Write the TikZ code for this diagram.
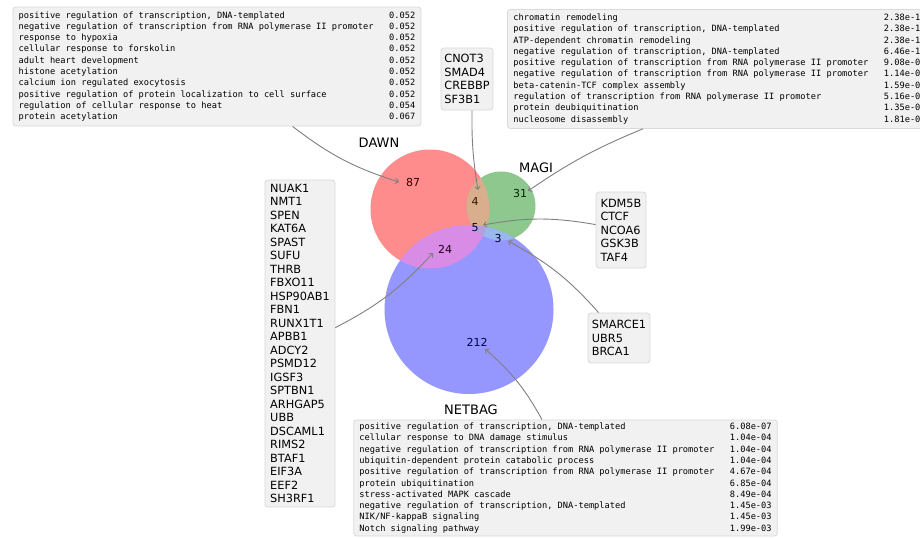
\documentclass[tikz,border=0pt]{standalone}
\usepackage{fontspec}
\setmainfont{DejaVu Sans}
\newfontfamily\monofont{DejaVu Sans Mono}
\usetikzlibrary{arrows.meta,calc}

% region colours of the three-set diagram
\definecolor{dawnc}{HTML}{FF8C8C}
\definecolor{magic}{HTML}{8FC88F}
\definecolor{netc}{HTML}{9696FF}
\definecolor{dmc}{HTML}{D9AE8C}
\definecolor{dnc}{HTML}{D98CE6}
\definecolor{mnc}{HTML}{99B8EE}
\definecolor{allc}{HTML}{B3A0DC}
\definecolor{boxfill}{HTML}{F1F1F1}
\definecolor{boxedge}{HTML}{DADADA}
\definecolor{conncol}{HTML}{808080}

% one term line of an enrichment table: term column, then p-value
\newcommand\goline[2]{\makebox[370.5pt][l]{#1}#2}

\tikzset{
  setlabel/.style={font=\fontsize{13}{15}\selectfont, inner sep=0pt},
  count/.style={font=\fontsize{11}{13}\selectfont, inner sep=0pt},
  genebox/.style={draw=boxedge, fill=boxfill, rounded corners=3pt,
    line width=0.8pt, align=left, inner sep=0pt,
    font=\fontsize{11.3}{13.5}\selectfont},
  gobox/.style={draw=boxedge, fill=boxfill, rounded corners=3pt,
    line width=0.8pt, align=left, inner ysep=0pt, inner xsep=5.7pt,
    font=\monofont\fontsize{8.67}{11.3}\selectfont},
  conn/.style={draw=conncol, line width=0.9pt,
    -{Straight Barb[length=3pt,width=5.5pt]}, bend right=10},
}

\begin{document}
\begin{tikzpicture}[x=1pt,y=-1pt]
\useasboundingbox (0,0) rectangle (920,538);
\clip (0,0) rectangle (920,538);
\fill[white] (0,0) rectangle (920,538);

% circles
\fill[dawnc] (430,209) circle[radius=59.5];
\fill[magic] (501,206) circle[radius=34.5];
\fill[netc] (469,309.5) circle[radius=84.5];
\begin{scope}
  \clip (430,209) circle[radius=59.5];
  \fill[dmc] (501,206) circle[radius=34.5];
  \fill[dnc] (469,309.5) circle[radius=84.5];
\end{scope}
\begin{scope}
  \clip (501,206) circle[radius=34.5];
  \fill[mnc] (469,309.5) circle[radius=84.5];
\end{scope}
\begin{scope}
  \clip (430,209) circle[radius=59.5];
  \clip (501,206) circle[radius=34.5];
  \fill[allc] (469,309.5) circle[radius=84.5];
\end{scope}

% set names
\node[setlabel] (ldawn) at (379,143) {DAWN};
\node[setlabel] (lmagi) at (536,168) {MAGI};
\node[setlabel] (lnet) at (471,410) {NETBAG};

% region counts
\node[count, text=black!70!red!70!black] (n87) at (413,182.5) {87};
\node[count, text=black!80!orange] (n4) at (475,201) {4};
\node[count, text=black!75!green!60!black] (n31) at (520,193) {31};
\node[count, text=black!80!blue] (n5) at (475,228) {5};
\node[count, text=black!80!blue] (n3) at (498,238) {3};
\node[count, text=black!75!violet] (n24) at (445,249) {24};
\node[count, text=black!70!blue] (n212) at (477,342) {212};

% arrow targets
\coordinate (t87) at (399,182);
\coordinate (t4) at (478,190);
\coordinate (t31) at (528,191);
\coordinate (t5) at (483,225);
\coordinate (t3) at (508,241);
\coordinate (t24) at (433,253);
\coordinate (t212) at (485,349);

% gene lists
\node[genebox, minimum width=70pt, minimum height=327pt] (g24) at (300,343.5)
  {NUAK1\\NMT1\\SPEN\\KAT6A\\SPAST\\SUFU\\THRB\\FBXO11\\HSP90AB1\\FBN1\\RUNX1T1\\APBB1\\ADCY2\\PSMD12\\IGSF3\\SPTBN1\\ARHGAP5\\UBB\\DSCAML1\\RIMS2\\BTAF1\\EIF3A\\EEF2\\SH3RF1};
\node[genebox, minimum width=52pt, minimum height=62pt] (g4) at (467,79)
  {CNOT3\\SMAD4\\CREBBP\\SF3B1};
\node[genebox, minimum width=50pt, minimum height=76pt] (g5) at (621,230)
  {KDM5B\\CTCF\\NCOA6\\GSK3B\\TAF4};
\node[genebox, minimum width=62pt, minimum height=50pt] (g3) at (619,338)
  {SMARCE1\\UBR5\\BRCA1};

% enrichment tables
\node[gobox, minimum width=408pt, minimum height=119pt] (go87) at (217,66.5) {%
  \goline{positive regulation of transcription, DNA-templated}{0.052}\\
  \goline{negative regulation of transcription from RNA polymerase II promoter}{0.052}\\
  \goline{response to hypoxia}{0.052}\\
  \goline{cellular response to forskolin}{0.052}\\
  \goline{adult heart development}{0.052}\\
  \goline{histone acetylation}{0.052}\\
  \goline{calcium ion regulated exocytosis}{0.052}\\
  \goline{positive regulation of protein localization to cell surface}{0.052}\\
  \goline{regulation of cellular response to heat}{0.054}\\
  \goline{protein acetylation}{0.067}};

\node[gobox, inner xsep=6pt, minimum height=119pt, anchor=north west] (go31) at (507,9) {%
  \goline{chromatin remodeling}{2.38e-1}\\
  \goline{positive regulation of transcription, DNA-templated}{2.38e-1}\\
  \goline{ATP-dependent chromatin remodeling}{2.38e-1}\\
  \goline{negative regulation of transcription, DNA-templated}{6.46e-1}\\
  \goline{positive regulation of transcription from RNA polymerase II promoter}{9.08e-0}\\
  \goline{negative regulation of transcription from RNA polymerase II promoter}{1.14e-0}\\
  \goline{beta-catenin-TCF complex assembly}{1.59e-0}\\
  \goline{regulation of transcription from RNA polymerase II promoter}{5.16e-0}\\
  \goline{protein deubiquitination}{1.35e-0}\\
  \goline{nucleosome disassembly}{1.81e-0}};

\node[gobox, minimum width=423pt, minimum height=116pt] (go212) at (565.5,478) {%
  \goline{positive regulation of transcription, DNA-templated}{6.08e-07}\\
  \goline{cellular response to DNA damage stimulus}{1.04e-04}\\
  \goline{negative regulation of transcription from RNA polymerase II promoter}{1.04e-04}\\
  \goline{ubiquitin-dependent protein catabolic process}{1.04e-04}\\
  \goline{positive regulation of transcription from RNA polymerase II promoter}{4.67e-04}\\
  \goline{protein ubiquitination}{6.85e-04}\\
  \goline{stress-activated MAPK cascade}{8.49e-04}\\
  \goline{negative regulation of transcription, DNA-templated}{1.45e-03}\\
  \goline{NIK/NF-kappaB signaling}{1.45e-03}\\
  \goline{Notch signaling pathway}{1.99e-03}};

% connectors from each list to its region
\draw[conn] ([xshift=280pt]go87.south west) to (t87);
\draw[conn, bend right=5] ([xshift=5pt]g4.south) to (t4);
\draw[conn, bend right=6] ([xshift=136pt]go31.south west) to (t31);
\draw[conn] (g5) to (t5);
\draw[conn] (g3) to (t3);
\draw[conn] (g24) to (t24);
\draw[conn] (go212) to (t212);
\end{tikzpicture}
\end{document}
